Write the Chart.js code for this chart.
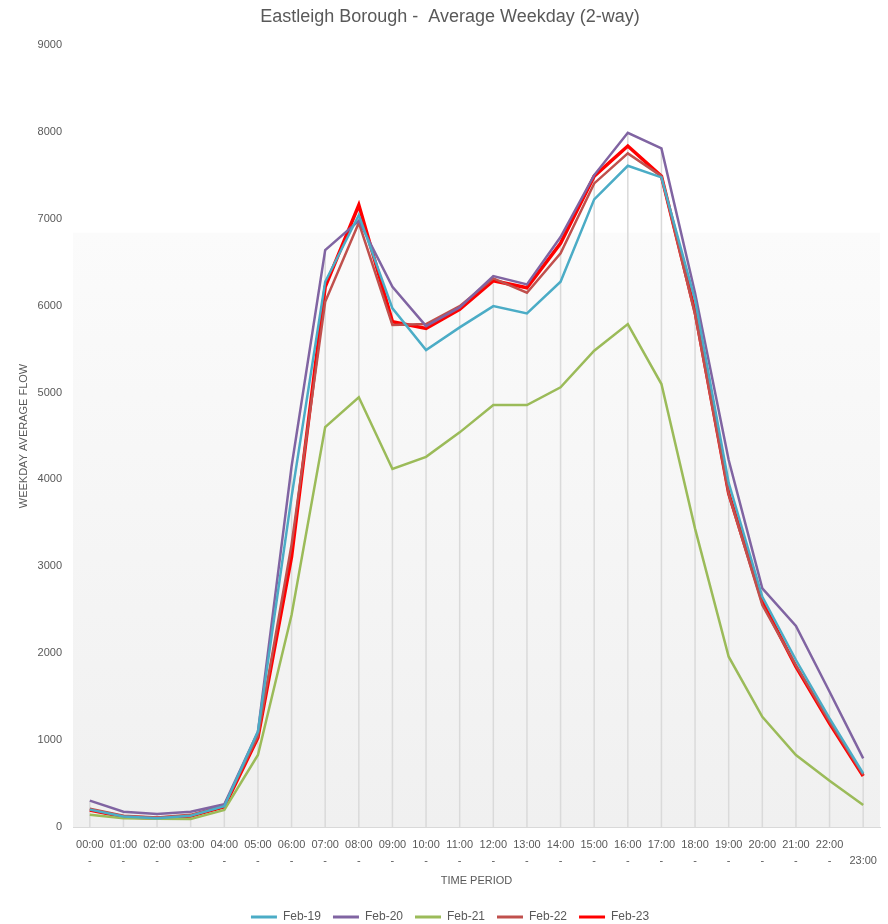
<!DOCTYPE html>
<html>
<head>
<meta charset="utf-8">
<title>Eastleigh Borough - Average Weekday (2-way)</title>
<script src="https://cdn.jsdelivr.net/npm/chart.js@4/dist/chart.umd.min.js"></script>
<style>
  html, body { margin: 0; padding: 0; background: #ffffff; }
  #wrap { width: 888px; height: 924px; position: relative; }
</style>
</head>
<body>
<div id="wrap"><canvas id="chart" width="888" height="924"></canvas></div>
<script>
// Hourly periods (start of each hour)
const hours = ['00:00','01:00','02:00','03:00','04:00','05:00','06:00','07:00',
               '08:00','09:00','10:00','11:00','12:00','13:00','14:00','15:00',
               '16:00','17:00','18:00','19:00','20:00','21:00','22:00','23:00'];

// Weekday average two-way flow, by survey month
const feb19 = [200, 120, 100, 130, 240, 1100, 3800, 6275, 7043, 5969, 5489, 5750,
               5995, 5911, 6275, 7223, 7610, 7476, 6064, 3960, 2650, 1922, 1251, 618];
const feb20 = [303, 176, 150, 176, 261, 1097, 4150, 6640, 6977, 6218, 5765, 5980,
               6340, 6245, 6790, 7503, 7990, 7810, 6145, 4223, 2747, 2313, 1556, 790];
const feb21 = [142, 100, 95, 92, 196, 829, 2440, 4603, 4945, 4120, 4260, 4542,
               4856, 4856, 5060, 5481, 5788, 5098, 3434, 1960, 1269, 829, 533, 253];
const feb22 = [210, 130, 110, 140, 250, 1050, 3250, 6045, 6954, 5777, 5788, 5995,
               6314, 6149, 6602, 7407, 7752, 7491, 5900, 3830, 2555, 1860, 1212, 600];
const feb23 = [196, 119, 100, 127, 234, 1032, 3111, 6218, 7158, 5815, 5739, 5957,
               6287, 6206, 6717, 7491, 7837, 7491, 5930, 3840, 2593, 1845, 1193, 587];

const seriesNames = ['Feb-19', 'Feb-20', 'Feb-21', 'Feb-22', 'Feb-23'];
const seriesData = [feb19, feb20, feb21, feb22, feb23];
const seriesColors = ['#4bacc6', '#8064a2', '#9bbb59', '#c0504d', '#ff0000'];
const seriesWidths = [2.5, 2.5, 2.5, 2.5, 3.5];

// Two-line category labels: time with a trailing dash underneath
const tickLabels = hours.map((h, i) => i < hours.length - 1 ? [h, '-'] : ['', h]);

const TEXT = '#595959';
const FONT = "'Liberation Sans', Arial, sans-serif";

// Soft grey gradient behind the lower part of the plot area
const plotBackground = {
  id: 'plotBackground',
  beforeDraw(chart) {
    const { ctx, chartArea: a } = chart;
    const top = a.top + (a.bottom - a.top) * 0.24;
    const g = ctx.createLinearGradient(0, top, 0, a.bottom);
    g.addColorStop(0, '#fbfbfb');
    g.addColorStop(1, '#f0f0f0');
    ctx.save();
    ctx.fillStyle = g;
    ctx.fillRect(a.left, top, a.right - a.left, a.bottom - top);
    ctx.restore();
  }
};

// Drop lines from the highest series value at each hour down to the axis
const dropLines = {
  id: 'dropLines',
  beforeDatasetsDraw(chart) {
    const { ctx, scales: { x, y } } = chart;
    ctx.save();
    ctx.strokeStyle = '#dadada';
    ctx.lineWidth = 1.5;
    hours.forEach((_, i) => {
      const peak = Math.max(...chart.data.datasets.map(d => d.data[i]));
      const px = x.getPixelForValue(i);
      ctx.beginPath();
      ctx.moveTo(px, y.getPixelForValue(peak));
      ctx.lineTo(px, y.getPixelForValue(0));
      ctx.stroke();
    });
    ctx.restore();
  }
};

new Chart(document.getElementById('chart'), {
  type: 'line',
  data: {
    labels: tickLabels,
    datasets: seriesNames.map((name, k) => ({
      label: name,
      data: seriesData[k],
      borderColor: seriesColors[k],
      backgroundColor: seriesColors[k],
      borderWidth: seriesWidths[k],
      pointRadius: 0,
      pointHoverRadius: 0,
      tension: 0,
      fill: false
    }))
  },
  options: {
    responsive: false,
    animation: false,
    devicePixelRatio: 1,
    layout: { padding: { left: 20, right: 8, top: 0, bottom: -9 } },
    font: { family: FONT },
    plugins: {
      title: {
        display: true,
        text: 'Eastleigh Borough -  Average Weekday (2-way)',
        color: TEXT,
        font: { family: FONT, size: 18, weight: 'normal' },
        padding: { top: 6, bottom: 17.4 }
      },
      legend: {
        position: 'bottom',
        labels: {
          color: TEXT,
          font: { family: FONT, size: 12 },
          boxWidth: 26,
          boxHeight: 3,
          padding: 12,
          generateLabels(chart) {
            return chart.data.datasets.map((d, i) => ({
              text: d.label,
              fillStyle: d.borderColor,
              strokeStyle: d.borderColor,
              lineWidth: 0,
              fontColor: TEXT,
              hidden: false,
              datasetIndex: i
            }));
          }
        }
      },
      tooltip: { enabled: false }
    },
    scales: {
      x: {
        offset: true,
        grid: { display: false, drawTicks: false },
        border: { display: true, color: '#d9d9d9', width: 1 },
        ticks: {
          color: TEXT,
          font: { family: FONT, size: 11, lineHeight: 1.45 },
          padding: 10,
          maxRotation: 0,
          minRotation: 0,
          autoSkip: false
        },
        title: {
          display: true,
          text: 'TIME PERIOD',
          color: TEXT,
          font: { family: FONT, size: 11 },
          padding: { top: 0, bottom: 11.5 }
        },
        afterFit(scale) { scale.height = 72; }
      },
      y: {
        min: 0,
        max: 9000,
        grid: { display: false, drawTicks: false },
        border: { display: false },
        ticks: {
          stepSize: 1000,
          color: TEXT,
          font: { family: FONT, size: 11 },
          padding: 11,
          callback: (v) => String(v)
        },
        title: {
          display: true,
          text: 'WEEKDAY AVERAGE FLOW',
          color: TEXT,
          font: { family: FONT, size: 11 },
          padding: { top: -2.6, bottom: 0 }
        },
        afterFit(scale) { scale.width = 53; }
      }
    }
  },
  plugins: [plotBackground, dropLines]
});
</script>
</body>
</html>
